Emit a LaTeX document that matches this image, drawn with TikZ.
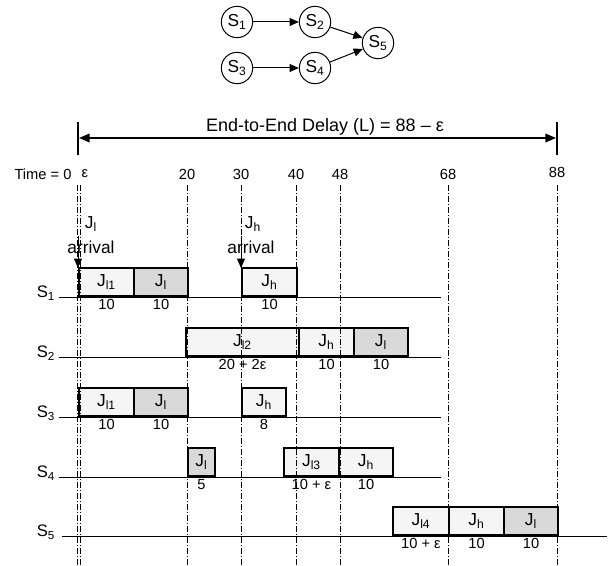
\documentclass[tikz,border=0pt]{standalone}
\usepackage{fontspec}
\setmainfont{Liberation Sans}
\usetikzlibrary{arrows.meta}
\tikzset{
 jbox/.style={draw, line width=1.5pt, inner sep=0pt, minimum height=21pt, anchor=south west, font=\fontsize{13}{15}\selectfont},
 lite/.style={fill=black!4},
 dark/.style={fill=black!15},
 dur/.style={font=\fontsize{11}{13}\selectfont, anchor=north, inner sep=1.5pt},
 rowline/.style={line width=0.75pt},
 tline/.style={line width=0.6pt, dash pattern=on 4.5pt off 1.5pt on 0.75pt off 1.5pt},
 tlab/.style={font=\fontsize{11}{13}\selectfont, inner sep=0pt},
 slab/.style={font=\fontsize{12.5}{14}\selectfont, inner sep=0pt},
 gnode/.style={circle, draw, line width=0.75pt, minimum size=23.5pt, inner sep=0pt, font=\fontsize{13}{15}\selectfont},
 garrow/.style={-{Triangle[length=7pt,width=6pt]}, line width=0.75pt},
 arrtext/.style={font=\fontsize{13}{15}\selectfont, inner sep=0pt},
 bar/.style={line width=1.5pt},
}
\newcommand{\jb}[6]{\node[jbox,#5, minimum width={(#3-#2)*0.75pt}] (#1) at (#2,#4) {#6};}
\begin{document}
\begin{tikzpicture}[x=0.75pt,y=-0.75pt]
\useasboundingbox (0,0) rectangle (616,566);
% graph
\node[gnode] (g1) at (237,22) {S\textsubscript{1}};
\node[gnode] (g2) at (315,22) {S\textsubscript{2}};
\node[gnode] (g3) at (237,68) {S\textsubscript{3}};
\node[gnode] (g4) at (315,68) {S\textsubscript{4}};
\node[gnode] (g5) at (378,43) {S\textsubscript{5}};
\draw[garrow] (g1) -- (g2);
\draw[garrow] (g3) -- (g4);
\draw[garrow] (g2) -- (g5);
\draw[garrow] (g4) -- (g5);
% delay
\coordinate (d0a) at (78,122); \coordinate (d0b) at (78,155);
\coordinate (d1a) at (557,122); \coordinate (d1b) at (557,155);
\draw[bar] (d0a) -- (d0b);
\draw[bar] (d1a) -- (d1b);
\coordinate (da) at (79,138); \coordinate (db) at (556,138);
\draw[line width=1.2pt, {Triangle[length=8pt,width=6.5pt]}-{Triangle[length=8pt,width=6.5pt]}] (da) -- (db);
\node[font=\fontsize{13.5}{15}\selectfont, inner sep=0pt] (title) at (325,127) {End-to-End Delay (L) = 88 – ε};
% time labels
\node[tlab] (tl0) at (43,174) {Time = 0};
\node[tlab] (tle) at (85,174) {ε};
\node[tlab] (tl20) at (187,174) {20};
\node[tlab] (tl30) at (241,174) {30};
\node[tlab] (tl40) at (296,174) {40};
\node[tlab] (tl48) at (340,174) {48};
\node[tlab] (tl68) at (448,174) {68};
\node[tlab] (tl88) at (557,172) {88};
% arrivals
\node[arrtext] (jla) at (91,224) {J\textsubscript{l}};
\node[arrtext] (arr1) at (91,247) {arrival};
\node[arrtext] (jha) at (253,224) {J\textsubscript{h}};
\node[arrtext] (arr2) at (251,247) {arrival};
\coordinate (a1s) at (78,236); \coordinate (a1e) at (78,268);
\coordinate (a2s) at (241,236); \coordinate (a2e) at (241,268);
\draw[line width=0.6pt, -{Triangle[length=7pt,width=6pt]}] (a1s) -- (a1e);
\draw[line width=0.6pt, -{Triangle[length=7pt,width=6pt]}] (a2s) -- (a2e);
% rows
\coordinate (r1a) at (59,297); \coordinate (r1b) at (441,297);
\coordinate (r2a) at (59,357); \coordinate (r2b) at (441,357);
\coordinate (r3a) at (59,417); \coordinate (r3b) at (441,417);
\coordinate (r4a) at (59,477); \coordinate (r4b) at (441,477);
\coordinate (r5a) at (62,536); \coordinate (r5b) at (607,536);
\foreach \r in {1,...,5} {\draw[rowline] (r\r a) -- (r\r b);}
\node[slab] (s1) at (46,293) {S\textsubscript{1}};
\node[slab] (s2) at (46,353) {S\textsubscript{2}};
\node[slab] (s3) at (46,413) {S\textsubscript{3}};
\node[slab] (s4) at (46,473) {S\textsubscript{4}};
\node[slab] (s5) at (46,532) {S\textsubscript{5}};
% S1
\jb{b11}{78}{133}{297}{lite}{J\textsubscript{l1}}
\jb{b12}{133}{187}{297}{dark}{J\textsubscript{l}}
\jb{b13}{241}{296}{297}{lite}{J\textsubscript{h}}
\node[dur] at (b11.south) {10};
\node[dur] at (b12.south) {10};
\node[dur] at (b13.south) {10};
% S2
\jb{b21}{185}{298}{357}{lite}{J\textsubscript{l2}}
\jb{b22}{298}{353}{357}{lite}{J\textsubscript{h}}
\jb{b23}{353}{407}{357}{dark}{J\textsubscript{l}}
\node[dur] at (b21.south) {20 + 2ε};
\node[dur] at (b22.south) {10};
\node[dur] at (b23.south) {10};
% S3
\jb{b31}{78}{133}{417}{lite}{J\textsubscript{l1}}
\jb{b32}{133}{187}{417}{dark}{J\textsubscript{l}}
\jb{b33}{241}{285}{417}{lite}{J\textsubscript{h}}
\node[dur] at (b31.south) {10};
\node[dur] at (b32.south) {10};
\node[dur] at (b33.south) {8};
% S4
\jb{b41}{187}{214}{477}{dark}{J\textsubscript{l}}
\jb{b42}{283}{338}{477}{lite}{J\textsubscript{l3}}
\jb{b43}{338}{392}{477}{lite}{J\textsubscript{h}}
\node[dur] at (b41.south) {5};
\node[dur] at (b42.south) {10 + ε};
\node[dur] at (b43.south) {10};
% S5
\jb{b51}{392}{448}{536}{lite}{J\textsubscript{l4}}
\jb{b52}{448}{503}{536}{lite}{J\textsubscript{h}}
\jb{b53}{503}{557}{536}{dark}{J\textsubscript{l}}
\node[dur] at (b51.south) {10 + ε};
\node[dur] at (b52.south) {10};
\node[dur] at (b53.south) {10};
% time lines
\foreach \x/\n in {77/a,80/b,187/c,241/d,296/e,340/f,448/g,557/h} {
  \coordinate (v\n t) at (\x,185); \coordinate (v\n b) at (\x,566);
  \draw[tline] (v\n t) -- (v\n b);
}
\end{tikzpicture}
\end{document}
